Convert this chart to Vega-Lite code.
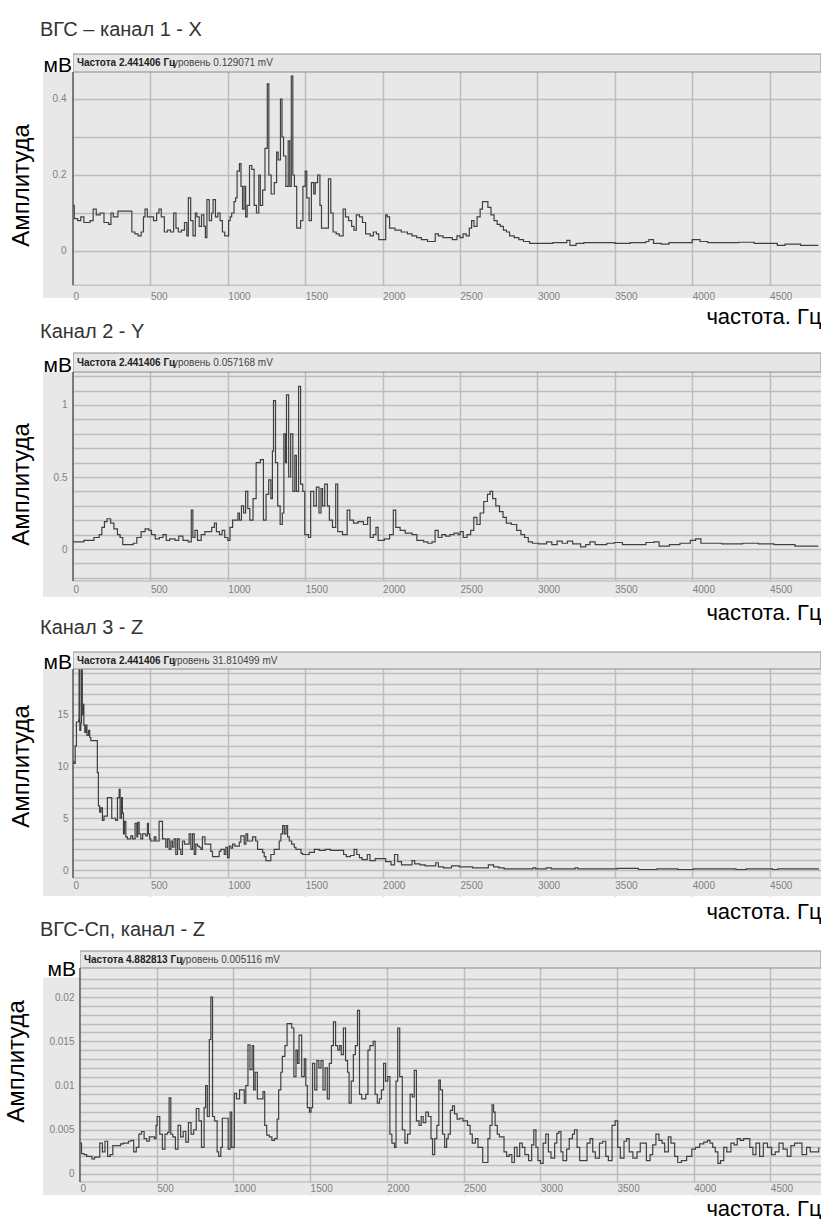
{
 "$schema": "https://vega.github.io/schema/vega-lite/v6.json",
 "background": "white",
 "padding": {"left": 4, "top": 19, "right": 0, "bottom": 0},
 "spacing": 55,
 "bounds": "flush",
 "config": {"view": {"fill": "#e8e8e8", "stroke": null}},
 "vconcat": [
  {
   "width": 778, "height": 244,
   "title": {"text": "ВГС – канал 1 - X", "anchor": "start", "frame": "group", "dx": -3, "dy": 19, "offset": 17, "baseline": "alphabetic", "fontSize": 20, "fontWeight": "normal", "font": "Liberation Sans", "color": "#333333"},
   "resolve": {"axis": {"x": "independent", "y": "independent"}},
   "layer": [
    {"data": {"values": [
{"f":0,"a":0.12},{"f":8,"a":0.085},{"f":30,"a":0.08},{"f":50,"a":0.09},{"f":70,"a":0.075},{"f":110,"a":0.08},{"f":130,"a":0.11},{"f":150,"a":0.095},{"f":175,"a":0.1},{"f":200,"a":0.075},{"f":230,"a":0.07},{"f":245,"a":0.1},{"f":260,"a":0.09},{"f":290,"a":0.105},{"f":380,"a":0.05},{"f":400,"a":0.045},{"f":420,"a":0.04},{"f":440,"a":0.05},{"f":455,"a":0.09},{"f":465,"a":0.11},{"f":480,"a":0.09},{"f":520,"a":0.08},{"f":540,"a":0.1},{"f":555,"a":0.11},{"f":570,"a":0.09},{"f":590,"a":0.05},{"f":610,"a":0.055},{"f":630,"a":0.05},{"f":650,"a":0.1},{"f":665,"a":0.06},{"f":680,"a":0.05},{"f":700,"a":0.055},{"f":720,"a":0.075},{"f":735,"a":0.04},{"f":745,"a":0.14},{"f":760,"a":0.08},{"f":775,"a":0.04},{"f":790,"a":0.1},{"f":800,"a":0.09},{"f":815,"a":0.065},{"f":830,"a":0.095},{"f":845,"a":0.065},{"f":855,"a":0.035},{"f":865,"a":0.135},{"f":880,"a":0.08},{"f":895,"a":0.1},{"f":905,"a":0.135},{"f":920,"a":0.09},{"f":935,"a":0.1},{"f":950,"a":0.08},{"f":965,"a":0.05},{"f":980,"a":0.04},{"f":1005,"a":0.08},{"f":1015,"a":0.09},{"f":1025,"a":0.1},{"f":1040,"a":0.13},{"f":1050,"a":0.14},{"f":1060,"a":0.21},{"f":1075,"a":0.23},{"f":1085,"a":0.17},{"f":1095,"a":0.11},{"f":1105,"a":0.17},{"f":1115,"a":0.09},{"f":1125,"a":0.12},{"f":1140,"a":0.225},{"f":1155,"a":0.215},{"f":1170,"a":0.12},{"f":1185,"a":0.1},{"f":1200,"a":0.2},{"f":1210,"a":0.12},{"f":1225,"a":0.16},{"f":1240,"a":0.27},{"f":1255,"a":0.44},{"f":1265,"a":0.2},{"f":1280,"a":0.15},{"f":1300,"a":0.18},{"f":1315,"a":0.26},{"f":1325,"a":0.24},{"f":1340,"a":0.4},{"f":1350,"a":0.3},{"f":1360,"a":0.25},{"f":1375,"a":0.17},{"f":1390,"a":0.29},{"f":1400,"a":0.17},{"f":1410,"a":0.46},{"f":1420,"a":0.2},{"f":1430,"a":0.17},{"f":1445,"a":0.06},{"f":1470,"a":0.08},{"f":1485,"a":0.17},{"f":1500,"a":0.21},{"f":1510,"a":0.14},{"f":1525,"a":0.08},{"f":1540,"a":0.18},{"f":1555,"a":0.15},{"f":1565,"a":0.18},{"f":1580,"a":0.2},{"f":1595,"a":0.12},{"f":1605,"a":0.06},{"f":1650,"a":0.19},{"f":1665,"a":0.1},{"f":1680,"a":0.05},{"f":1700,"a":0.045},{"f":1720,"a":0.04},{"f":1745,"a":0.11},{"f":1760,"a":0.09},{"f":1780,"a":0.08},{"f":1800,"a":0.065},{"f":1815,"a":0.055},{"f":1830,"a":0.095},{"f":1850,"a":0.09},{"f":1870,"a":0.075},{"f":1890,"a":0.045},{"f":1920,"a":0.04},{"f":1940,"a":0.05},{"f":1960,"a":0.045},{"f":1975,"a":0.03},{"f":2020,"a":0.095},{"f":2030,"a":0.09},{"f":2045,"a":0.06},{"f":2080,"a":0.055},{"f":2120,"a":0.05},{"f":2160,"a":0.045},{"f":2190,"a":0.04},{"f":2220,"a":0.035},{"f":2250,"a":0.03},{"f":2290,"a":0.025},{"f":2340,"a":0.045},{"f":2360,"a":0.04},{"f":2390,"a":0.035},{"f":2450,"a":0.03},{"f":2480,"a":0.04},{"f":2500,"a":0.035},{"f":2520,"a":0.045},{"f":2540,"a":0.04},{"f":2560,"a":0.06},{"f":2575,"a":0.08},{"f":2590,"a":0.065},{"f":2610,"a":0.09},{"f":2630,"a":0.11},{"f":2645,"a":0.13},{"f":2660,"a":0.13},{"f":2680,"a":0.115},{"f":2700,"a":0.095},{"f":2720,"a":0.08},{"f":2740,"a":0.07},{"f":2760,"a":0.065},{"f":2780,"a":0.055},{"f":2800,"a":0.05},{"f":2820,"a":0.04},{"f":2850,"a":0.035},{"f":2880,"a":0.03},{"f":2910,"a":0.025},{"f":2950,"a":0.02},{"f":3100,"a":0.022},{"f":3190,"a":0.028},{"f":3210,"a":0.015},{"f":3250,"a":0.02},{"f":3300,"a":0.022},{"f":3500,"a":0.02},{"f":3600,"a":0.022},{"f":3700,"a":0.025},{"f":3720,"a":0.03},{"f":3750,"a":0.02},{"f":3800,"a":0.018},{"f":3850,"a":0.022},{"f":4000,"a":0.03},{"f":4050,"a":0.025},{"f":4100,"a":0.022},{"f":4300,"a":0.023},{"f":4400,"a":0.02},{"f":4550,"a":0.015},{"f":4600,"a":0.018},{"f":4700,"a":0.015},{"f":4815,"a":0.015}
    ]},
     "mark": {"type": "line", "interpolate": "step-after", "color": "#404040", "strokeWidth": 1.2, "clip": true},
     "encoding": {
      "x": {"field": "f", "type": "quantitative", "scale": {"domain": [-194, 4832], "nice": false, "zero": false}, "axis": {"orient": "bottom", "values": [500,1000,1500,2000,2500,3000,3500,4000,4500], "grid": true, "gridColor": "#bdbdbd", "gridWidth": 1.5, "labels": false, "ticks": false, "domain": false, "title": null}},
      "y": {"field": "a", "type": "quantitative", "scale": {"domain": [-0.1237, 0.5184], "nice": false, "zero": false}, "axis": {"orient": "left", "values": [0,0.1,0.2,0.3,0.4], "grid": true, "gridColor": "#bdbdbd", "gridWidth": 1.5, "labels": false, "ticks": false, "domain": false, "title": null}}
     }},
    {"data": {"values": [{}]}, "mark": {"type": "rect", "fill": "#e8e8e8"},
     "encoding": {
      "x": {"datum": -194, "type": "quantitative", "axis": {"orient": "bottom", "offset": -13, "values": [0,500,1000,1500,2000,2500,3000,3500,4000,4500], "grid": false, "ticks": false, "domain": false, "labelAlign": "left", "labelBaseline": "top", "labelPadding": 6, "labelFontSize": 10, "labelColor": "#808080", "labelFont": "Liberation Sans Narrow, Liberation Sans, sans-serif", "format": "d", "labelOverlap": false, "labelFlush": false, "title": "частота. Гц", "titleAnchor": "end", "titleFontSize": 22, "titleFont": "Liberation Sans", "titleFontWeight": "normal", "titleColor": "#000000", "titleBaseline": "alphabetic", "titlePadding": 26, "minExtent": 12, "maxExtent": 12, "zindex": 1}},
      "x2": {"datum": 0},
      "y": {"datum": -0.1237, "type": "quantitative", "axis": {"orient": "left", "offset": -30, "values": [0,0.2,0.4], "grid": false, "ticks": false, "domain": false, "labelPadding": 7, "labelFontSize": 10, "labelColor": "#808080", "labelFont": "Liberation Sans Narrow, Liberation Sans, sans-serif", "format": "~g", "labelOverlap": false, "labelFlush": false, "labelBaseline": "middle", "title": "Амплитуда", "titleFontSize": 24, "titleFont": "Liberation Sans", "titleFontWeight": "normal", "titleColor": "#000000", "titlePadding": 18, "titleY": 131, "minExtent": 22, "maxExtent": 22, "zindex": 1}},
      "y2": {"datum": 0.471}
     }},
    {"data": {"values": [{}]}, "mark": {"type": "rect", "fill": "#e8e8e8"},
     "encoding": {"x": {"datum": 0, "type": "quantitative", "axis": null}, "x2": {"datum": 4832}, "y": {"datum": -0.1237, "type": "quantitative", "axis": null}, "y2": {"datum": -0.09}}},
    {"data": {"values": [{}]}, "mark": {"type": "rect", "fill": "#e6e6e6", "stroke": "#8c8c8c", "strokeWidth": 1},
     "encoding": {"x": {"datum": 0, "type": "quantitative", "axis": null}, "x2": {"datum": 4832}, "y": {"datum": 0.471, "type": "quantitative", "axis": null}, "y2": {"datum": 0.5184}}},
    {"data": {"values": [{}]}, "mark": {"type": "rect", "fill": "#ffffff"},
     "encoding": {"x": {"datum": -194, "type": "quantitative", "axis": null}, "x2": {"datum": 0}, "y": {"datum": 0.471, "type": "quantitative", "axis": null}, "y2": {"datum": 0.5184}}},
    {"data": {"values": [{}]}, "mark": {"type": "rule", "color": "#b0b0b0", "strokeWidth": 1},
     "encoding": {"x": {"datum": 0, "type": "quantitative", "axis": null}, "x2": {"datum": 4832}, "y": {"datum": -0.09, "type": "quantitative", "axis": null}}},
    {"data": {"values": [{}]}, "mark": {"type": "rule", "color": "#555555", "strokeWidth": 1.5},
     "encoding": {"x": {"datum": 0, "type": "quantitative", "axis": null}, "y": {"datum": -0.09, "type": "quantitative", "axis": null}, "y2": {"datum": 0.471}}},
    {"data": {"values": [{}]}, "mark": {"type": "text", "text": "мВ", "align": "right", "baseline": "alphabetic", "fontSize": 21, "font": "Liberation Sans", "color": "#000000", "dx": -1},
     "encoding": {"x": {"datum": 0, "type": "quantitative", "axis": null}, "y": {"datum": 0.471, "type": "quantitative", "axis": null}}},
    {"data": {"values": [{}]}, "mark": {"type": "text", "text": "Частота 2.441406 Гц", "align": "left", "baseline": "middle", "fontSize": 10, "fontWeight": "bold", "font": "Liberation Sans Narrow, Liberation Sans, sans-serif", "color": "#222222"},
     "encoding": {"x": {"datum": 25, "type": "quantitative", "axis": null}, "y": {"datum": 0.4947, "type": "quantitative", "axis": null}}},
    {"data": {"values": [{}]}, "mark": {"type": "text", "text": "уровень 0.129071 mV", "align": "left", "baseline": "middle", "fontSize": 10, "font": "Liberation Sans Narrow, Liberation Sans, sans-serif", "color": "#444444"},
     "encoding": {"x": {"datum": 646, "type": "quantitative", "axis": null}, "y": {"datum": 0.4947, "type": "quantitative", "axis": null}}}
   ]
  },
  {
   "width": 778, "height": 244,
   "title": {"text": "Канал 2 - Y", "anchor": "start", "frame": "group", "dx": -3, "dy": 20, "offset": 15, "baseline": "alphabetic", "fontSize": 20, "fontWeight": "normal", "font": "Liberation Sans", "color": "#333333"},
   "resolve": {"axis": {"x": "independent", "y": "independent"}},
   "layer": [
    {"data": {"values": [
{"f":0,"a":0.05},{"f":70,"a":0.06},{"f":135,"a":0.08},{"f":169,"a":0.1},{"f":186,"a":0.15},{"f":203,"a":0.19},{"f":220,"a":0.21},{"f":243,"a":0.18},{"f":264,"a":0.14},{"f":287,"a":0.1},{"f":304,"a":0.08},{"f":321,"a":0.03},{"f":389,"a":0.04},{"f":412,"a":0.08},{"f":440,"a":0.12},{"f":466,"a":0.14},{"f":490,"a":0.13},{"f":507,"a":0.1},{"f":531,"a":0.07},{"f":558,"a":0.08},{"f":581,"a":0.1},{"f":602,"a":0.06},{"f":625,"a":0.07},{"f":659,"a":0.06},{"f":683,"a":0.09},{"f":710,"a":0.06},{"f":744,"a":0.05},{"f":764,"a":0.27},{"f":774,"a":0.08},{"f":788,"a":0.13},{"f":804,"a":0.06},{"f":828,"a":0.1},{"f":852,"a":0.12},{"f":896,"a":0.15},{"f":913,"a":0.18},{"f":926,"a":0.12},{"f":946,"a":0.1},{"f":963,"a":0.13},{"f":980,"a":0.08},{"f":1000,"a":0.06},{"f":1014,"a":0.15},{"f":1031,"a":0.2},{"f":1065,"a":0.25},{"f":1075,"a":0.2},{"f":1088,"a":0.3},{"f":1102,"a":0.25},{"f":1115,"a":0.4},{"f":1129,"a":0.28},{"f":1142,"a":0.2},{"f":1163,"a":0.35},{"f":1183,"a":0.6},{"f":1210,"a":0.62},{"f":1230,"a":0.2},{"f":1247,"a":0.38},{"f":1264,"a":0.48},{"f":1278,"a":0.35},{"f":1288,"a":0.68},{"f":1295,"a":1.03},{"f":1308,"a":0.6},{"f":1322,"a":0.3},{"f":1338,"a":0.17},{"f":1352,"a":0.25},{"f":1362,"a":0.8},{"f":1372,"a":0.6},{"f":1379,"a":1.07},{"f":1393,"a":0.5},{"f":1406,"a":0.8},{"f":1420,"a":0.4},{"f":1433,"a":0.65},{"f":1443,"a":0.4},{"f":1457,"a":1.13},{"f":1470,"a":0.45},{"f":1484,"a":0.4},{"f":1497,"a":0.1},{"f":1521,"a":0.08},{"f":1535,"a":0.4},{"f":1555,"a":0.3},{"f":1572,"a":0.43},{"f":1589,"a":0.25},{"f":1602,"a":0.42},{"f":1612,"a":0.3},{"f":1626,"a":0.45},{"f":1643,"a":0.3},{"f":1656,"a":0.2},{"f":1676,"a":0.15},{"f":1697,"a":0.45},{"f":1710,"a":0.12},{"f":1741,"a":0.1},{"f":1771,"a":0.27},{"f":1788,"a":0.2},{"f":1812,"a":0.18},{"f":1842,"a":0.19},{"f":1876,"a":0.17},{"f":1903,"a":0.22},{"f":1920,"a":0.08},{"f":1940,"a":0.1},{"f":1957,"a":0.15},{"f":1971,"a":0.06},{"f":2011,"a":0.07},{"f":2045,"a":0.1},{"f":2069,"a":0.27},{"f":2085,"a":0.15},{"f":2113,"a":0.13},{"f":2146,"a":0.11},{"f":2190,"a":0.1},{"f":2221,"a":0.06},{"f":2265,"a":0.05},{"f":2292,"a":0.04},{"f":2319,"a":0.05},{"f":2339,"a":0.13},{"f":2359,"a":0.08},{"f":2383,"a":0.1},{"f":2407,"a":0.09},{"f":2434,"a":0.1},{"f":2461,"a":0.11},{"f":2488,"a":0.1},{"f":2501,"a":0.12},{"f":2521,"a":0.08},{"f":2545,"a":0.1},{"f":2569,"a":0.13},{"f":2589,"a":0.22},{"f":2609,"a":0.17},{"f":2630,"a":0.25},{"f":2653,"a":0.33},{"f":2677,"a":0.38},{"f":2694,"a":0.4},{"f":2711,"a":0.35},{"f":2731,"a":0.3},{"f":2755,"a":0.26},{"f":2778,"a":0.22},{"f":2799,"a":0.18},{"f":2832,"a":0.17},{"f":2866,"a":0.13},{"f":2893,"a":0.1},{"f":2917,"a":0.08},{"f":2941,"a":0.05},{"f":2968,"a":0.04},{"f":3008,"a":0.035},{"f":3059,"a":0.05},{"f":3093,"a":0.03},{"f":3127,"a":0.055},{"f":3160,"a":0.04},{"f":3194,"a":0.055},{"f":3228,"a":0.035},{"f":3279,"a":0.015},{"f":3312,"a":0.03},{"f":3339,"a":0.05},{"f":3373,"a":0.03},{"f":3448,"a":0.04},{"f":3498,"a":0.045},{"f":3549,"a":0.03},{"f":3701,"a":0.045},{"f":3752,"a":0.05},{"f":3786,"a":0.02},{"f":3853,"a":0.03},{"f":3921,"a":0.04},{"f":3988,"a":0.06},{"f":4022,"a":0.07},{"f":4056,"a":0.04},{"f":4191,"a":0.035},{"f":4326,"a":0.04},{"f":4428,"a":0.035},{"f":4529,"a":0.03},{"f":4664,"a":0.02},{"f":4815,"a":0.02}
    ]},
     "mark": {"type": "line", "interpolate": "step-after", "color": "#404040", "strokeWidth": 1.2, "clip": true},
     "encoding": {
      "x": {"field": "f", "type": "quantitative", "scale": {"domain": [-194, 4832], "nice": false, "zero": false}, "axis": {"orient": "bottom", "values": [500,1000,1500,2000,2500,3000,3500,4000,4500], "grid": true, "gridColor": "#bdbdbd", "gridWidth": 1.5, "labels": false, "ticks": false, "domain": false, "title": null}},
      "y": {"field": "a", "type": "quantitative", "scale": {"domain": [-0.3333, 1.3611], "nice": false, "zero": false}, "axis": {"orient": "left", "values": [-0.2,-0.1,0,0.1,0.2,0.3,0.4,0.5,0.6,0.7,0.8,0.9,1,1.1,1.2], "grid": true, "gridColor": "#bdbdbd", "gridWidth": 1.5, "labels": false, "ticks": false, "domain": false, "title": null}}
     }},
    {"data": {"values": [{}]}, "mark": {"type": "rect", "fill": "#e8e8e8"},
     "encoding": {
      "x": {"datum": -194, "type": "quantitative", "axis": {"orient": "bottom", "offset": -16, "values": [0,500,1000,1500,2000,2500,3000,3500,4000,4500], "grid": false, "ticks": false, "domain": false, "labelAlign": "left", "labelBaseline": "top", "labelPadding": 3, "labelFontSize": 10, "labelColor": "#808080", "labelFont": "Liberation Sans Narrow, Liberation Sans, sans-serif", "format": "d", "labelOverlap": false, "labelFlush": false, "title": "частота. Гц", "titleAnchor": "end", "titleFontSize": 22, "titleFont": "Liberation Sans", "titleFontWeight": "normal", "titleColor": "#000000", "titleBaseline": "alphabetic", "titlePadding": 26, "minExtent": 12, "maxExtent": 12, "zindex": 1}},
      "x2": {"datum": 0},
      "y": {"datum": -0.3333, "type": "quantitative", "axis": {"orient": "left", "offset": -30, "values": [0,0.5,1], "grid": false, "ticks": false, "domain": false, "labelPadding": 6, "labelFontSize": 10, "labelColor": "#808080", "labelFont": "Liberation Sans Narrow, Liberation Sans, sans-serif", "format": "~g", "labelOverlap": false, "labelFlush": false, "labelBaseline": "middle", "title": "Амплитуда", "titleFontSize": 24, "titleFont": "Liberation Sans", "titleFontWeight": "normal", "titleColor": "#000000", "titlePadding": 18, "titleY": 131, "minExtent": 22, "maxExtent": 22, "zindex": 1}},
      "y2": {"datum": 1.229}
     }},
    {"data": {"values": [{}]}, "mark": {"type": "rect", "fill": "#e8e8e8"},
     "encoding": {"x": {"datum": 0, "type": "quantitative", "axis": null}, "x2": {"datum": 4832}, "y": {"datum": -0.3333, "type": "quantitative", "axis": null}, "y2": {"datum": -0.222}}},
    {"data": {"values": [{}]}, "mark": {"type": "rect", "fill": "#e6e6e6", "stroke": "#8c8c8c", "strokeWidth": 1},
     "encoding": {"x": {"datum": 0, "type": "quantitative", "axis": null}, "x2": {"datum": 4832}, "y": {"datum": 1.229, "type": "quantitative", "axis": null}, "y2": {"datum": 1.3611}}},
    {"data": {"values": [{}]}, "mark": {"type": "rect", "fill": "#ffffff"},
     "encoding": {"x": {"datum": -194, "type": "quantitative", "axis": null}, "x2": {"datum": 0}, "y": {"datum": 1.229, "type": "quantitative", "axis": null}, "y2": {"datum": 1.3611}}},
    {"data": {"values": [{}]}, "mark": {"type": "rule", "color": "#b0b0b0", "strokeWidth": 1},
     "encoding": {"x": {"datum": 0, "type": "quantitative", "axis": null}, "x2": {"datum": 4832}, "y": {"datum": -0.222, "type": "quantitative", "axis": null}}},
    {"data": {"values": [{}]}, "mark": {"type": "rule", "color": "#555555", "strokeWidth": 1.5},
     "encoding": {"x": {"datum": 0, "type": "quantitative", "axis": null}, "y": {"datum": -0.222, "type": "quantitative", "axis": null}, "y2": {"datum": 1.229}}},
    {"data": {"values": [{}]}, "mark": {"type": "text", "text": "мВ", "align": "right", "baseline": "alphabetic", "fontSize": 21, "font": "Liberation Sans", "color": "#000000", "dx": -1},
     "encoding": {"x": {"datum": 0, "type": "quantitative", "axis": null}, "y": {"datum": 1.229, "type": "quantitative", "axis": null}}},
    {"data": {"values": [{}]}, "mark": {"type": "text", "text": "Частота 2.441406 Гц", "align": "left", "baseline": "middle", "fontSize": 10, "fontWeight": "bold", "font": "Liberation Sans Narrow, Liberation Sans, sans-serif", "color": "#222222"},
     "encoding": {"x": {"datum": 25, "type": "quantitative", "axis": null}, "y": {"datum": 1.295, "type": "quantitative", "axis": null}}},
    {"data": {"values": [{}]}, "mark": {"type": "text", "text": "уровень 0.057168 mV", "align": "left", "baseline": "middle", "fontSize": 10, "font": "Liberation Sans Narrow, Liberation Sans, sans-serif", "color": "#444444"},
     "encoding": {"x": {"datum": 646, "type": "quantitative", "axis": null}, "y": {"datum": 1.295, "type": "quantitative", "axis": null}}}
   ]
  },
  {
   "width": 778, "height": 244,
   "title": {"text": "Канал 3 - Z", "anchor": "start", "frame": "group", "dx": -3, "dy": 19, "offset": 17, "baseline": "alphabetic", "fontSize": 20, "fontWeight": "normal", "font": "Liberation Sans", "color": "#333333"},
   "resolve": {"axis": {"x": "independent", "y": "independent"}},
   "layer": [
    {"data": {"values": [
{"f":0,"a":10.5},{"f":5,"a":10.3},{"f":14,"a":12},{"f":22,"a":14.3},{"f":36,"a":14.5},{"f":39,"a":21},{"f":44,"a":13.5},{"f":50,"a":14.2},{"f":55,"a":21},{"f":60,"a":15},{"f":65,"a":16},{"f":70,"a":14},{"f":76,"a":13.3},{"f":82,"a":14},{"f":90,"a":13},{"f":100,"a":13.5},{"f":108,"a":12.8},{"f":115,"a":12.5},{"f":157,"a":9.4},{"f":164,"a":6.2},{"f":172,"a":5.6},{"f":180,"a":6},{"f":190,"a":4.8},{"f":200,"a":5.2},{"f":222,"a":7},{"f":250,"a":5},{"f":275,"a":4.8},{"f":287,"a":7},{"f":298,"a":7.8},{"f":304,"a":5},{"f":313,"a":7},{"f":319,"a":5.5},{"f":326,"a":3.5},{"f":332,"a":4.7},{"f":341,"a":3.2},{"f":351,"a":3},{"f":373,"a":3.3},{"f":385,"a":3},{"f":401,"a":4.5},{"f":412,"a":3.2},{"f":418,"a":4.6},{"f":427,"a":3.5},{"f":438,"a":3},{"f":450,"a":3.5},{"f":470,"a":3.3},{"f":481,"a":4.5},{"f":487,"a":3.5},{"f":495,"a":3},{"f":502,"a":2.8},{"f":525,"a":3.2},{"f":535,"a":2.8},{"f":556,"a":4.7},{"f":578,"a":3},{"f":599,"a":2.2},{"f":610,"a":3},{"f":621,"a":2},{"f":632,"a":2.8},{"f":642,"a":2.2},{"f":653,"a":3},{"f":664,"a":1.5},{"f":675,"a":3},{"f":686,"a":2},{"f":696,"a":1.5},{"f":707,"a":2.8},{"f":720,"a":2.5},{"f":750,"a":3.5},{"f":761,"a":2},{"f":772,"a":3.5},{"f":783,"a":1.5},{"f":793,"a":2.5},{"f":804,"a":2.3},{"f":815,"a":2.2},{"f":826,"a":2},{"f":836,"a":3.2},{"f":852,"a":2.5},{"f":890,"a":1.8},{"f":901,"a":1.3},{"f":944,"a":1.8},{"f":955,"a":2},{"f":977,"a":1.5},{"f":987,"a":2.2},{"f":998,"a":1.2},{"f":1009,"a":2.3},{"f":1020,"a":2.1},{"f":1031,"a":2.5},{"f":1045,"a":2.3},{"f":1074,"a":2.7},{"f":1084,"a":3.3},{"f":1106,"a":2.5},{"f":1117,"a":3.5},{"f":1128,"a":2.8},{"f":1160,"a":3.2},{"f":1180,"a":2.8},{"f":1192,"a":2},{"f":1225,"a":1.7},{"f":1235,"a":1.3},{"f":1246,"a":0.9},{"f":1278,"a":1.5},{"f":1300,"a":2},{"f":1332,"a":2.8},{"f":1343,"a":3.5},{"f":1354,"a":4.3},{"f":1365,"a":3.5},{"f":1376,"a":4.3},{"f":1386,"a":3.2},{"f":1397,"a":2.8},{"f":1412,"a":2.5},{"f":1429,"a":2.2},{"f":1440,"a":2},{"f":1473,"a":1.6},{"f":1483,"a":1.5},{"f":1526,"a":1.7},{"f":1559,"a":2},{"f":1591,"a":1.9},{"f":1629,"a":2},{"f":1663,"a":1.9},{"f":1748,"a":1.5},{"f":1765,"a":1.3},{"f":1792,"a":1.4},{"f":1816,"a":2},{"f":1833,"a":1.5},{"f":1850,"a":1.2},{"f":1867,"a":1},{"f":1901,"a":1.5},{"f":1918,"a":0.9},{"f":1952,"a":1.1},{"f":2020,"a":0.8},{"f":2054,"a":0.5},{"f":2077,"a":1.5},{"f":2098,"a":0.8},{"f":2122,"a":0.5},{"f":2190,"a":0.9},{"f":2207,"a":0.6},{"f":2241,"a":0.5},{"f":2275,"a":0.4},{"f":2343,"a":0.7},{"f":2360,"a":0.3},{"f":2394,"a":0.2},{"f":2445,"a":0.4},{"f":2496,"a":0.3},{"f":2581,"a":0.2},{"f":2683,"a":0.5},{"f":2717,"a":0.3},{"f":2751,"a":0.2},{"f":2785,"a":0.1},{"f":2972,"a":0.2},{"f":2989,"a":0.1},{"f":3057,"a":0.2},{"f":3091,"a":0.1},{"f":3244,"a":0.2},{"f":3261,"a":0.1},{"f":3516,"a":0.15},{"f":3652,"a":0.05},{"f":3771,"a":0.1},{"f":3907,"a":0.05},{"f":4009,"a":0.1},{"f":4283,"a":0.05},{"f":4349,"a":0.1},{"f":4519,"a":0.05},{"f":4553,"a":0.1},{"f":4815,"a":0.05}
    ]},
     "mark": {"type": "line", "interpolate": "step-after", "color": "#404040", "strokeWidth": 1.2, "clip": true},
     "encoding": {
      "x": {"field": "f", "type": "quantitative", "scale": {"domain": [-194, 4832], "nice": false, "zero": false}, "axis": {"orient": "bottom", "values": [500,1000,1500,2000,2500,3000,3500,4000,4500], "grid": true, "gridColor": "#bdbdbd", "gridWidth": 1.5, "labels": false, "ticks": false, "domain": false, "title": null}},
      "y": {"field": "a", "type": "quantitative", "scale": {"domain": [-2.512, 21.063], "nice": false, "zero": false}, "axis": {"orient": "left", "values": [0,1,2,3,4,5,6,7,8,9,10,11,12,13,14,15,16,17,18,19], "grid": true, "gridColor": "#bdbdbd", "gridWidth": 1.5, "labels": false, "ticks": false, "domain": false, "title": null}}
     }},
    {"data": {"values": [{}]}, "mark": {"type": "rect", "fill": "#e8e8e8"},
     "encoding": {
      "x": {"datum": -194, "type": "quantitative", "axis": {"orient": "bottom", "offset": -18, "values": [0,500,1000,1500,2000,2500,3000,3500,4000,4500], "grid": false, "ticks": false, "domain": false, "labelAlign": "left", "labelBaseline": "top", "labelPadding": 2, "labelFontSize": 10, "labelColor": "#808080", "labelFont": "Liberation Sans Narrow, Liberation Sans, sans-serif", "format": "d", "labelOverlap": false, "labelFlush": false, "title": "частота. Гц", "titleAnchor": "end", "titleFontSize": 22, "titleFont": "Liberation Sans", "titleFontWeight": "normal", "titleColor": "#000000", "titleBaseline": "alphabetic", "titlePadding": 28, "minExtent": 12, "maxExtent": 12, "zindex": 1}},
      "x2": {"datum": 0},
      "y": {"datum": -2.512, "type": "quantitative", "axis": {"orient": "left", "offset": -30, "values": [0,5,10,15], "grid": false, "ticks": false, "domain": false, "labelPadding": 5, "labelFontSize": 10, "labelColor": "#808080", "labelFont": "Liberation Sans Narrow, Liberation Sans, sans-serif", "format": "~g", "labelOverlap": false, "labelFlush": false, "labelBaseline": "middle", "title": "Амплитуда", "titleFontSize": 24, "titleFont": "Liberation Sans", "titleFontWeight": "normal", "titleColor": "#000000", "titlePadding": 18, "titleY": 114, "minExtent": 22, "maxExtent": 22, "zindex": 1}},
      "y2": {"datum": 19.42}
     }},
    {"data": {"values": [{}]}, "mark": {"type": "rect", "fill": "#e8e8e8"},
     "encoding": {"x": {"datum": 0, "type": "quantitative", "axis": null}, "x2": {"datum": 4832}, "y": {"datum": -2.512, "type": "quantitative", "axis": null}, "y2": {"datum": -0.77}}},
    {"data": {"values": [{}]}, "mark": {"type": "rect", "fill": "#e6e6e6", "stroke": "#8c8c8c", "strokeWidth": 1},
     "encoding": {"x": {"datum": 0, "type": "quantitative", "axis": null}, "x2": {"datum": 4832}, "y": {"datum": 19.42, "type": "quantitative", "axis": null}, "y2": {"datum": 21.063}}},
    {"data": {"values": [{}]}, "mark": {"type": "rect", "fill": "#ffffff"},
     "encoding": {"x": {"datum": -194, "type": "quantitative", "axis": null}, "x2": {"datum": 0}, "y": {"datum": 19.42, "type": "quantitative", "axis": null}, "y2": {"datum": 21.063}}},
    {"data": {"values": [{}]}, "mark": {"type": "rule", "color": "#b0b0b0", "strokeWidth": 1},
     "encoding": {"x": {"datum": 0, "type": "quantitative", "axis": null}, "x2": {"datum": 4832}, "y": {"datum": -0.77, "type": "quantitative", "axis": null}}},
    {"data": {"values": [{}]}, "mark": {"type": "rule", "color": "#555555", "strokeWidth": 1.5},
     "encoding": {"x": {"datum": 0, "type": "quantitative", "axis": null}, "y": {"datum": -0.77, "type": "quantitative", "axis": null}, "y2": {"datum": 19.42}}},
    {"data": {"values": [{}]}, "mark": {"type": "text", "text": "мВ", "align": "right", "baseline": "alphabetic", "fontSize": 21, "font": "Liberation Sans", "color": "#000000", "dx": -1},
     "encoding": {"x": {"datum": 0, "type": "quantitative", "axis": null}, "y": {"datum": 19.42, "type": "quantitative", "axis": null}}},
    {"data": {"values": [{}]}, "mark": {"type": "text", "text": "Частота 2.441406 Гц", "align": "left", "baseline": "middle", "fontSize": 10, "fontWeight": "bold", "font": "Liberation Sans Narrow, Liberation Sans, sans-serif", "color": "#222222"},
     "encoding": {"x": {"datum": 25, "type": "quantitative", "axis": null}, "y": {"datum": 20.24, "type": "quantitative", "axis": null}}},
    {"data": {"values": [{}]}, "mark": {"type": "text", "text": "уровень 31.810499 mV", "align": "left", "baseline": "middle", "fontSize": 10, "font": "Liberation Sans Narrow, Liberation Sans, sans-serif", "color": "#444444"},
     "encoding": {"x": {"datum": 640, "type": "quantitative", "axis": null}, "y": {"datum": 20.24, "type": "quantitative", "axis": null}}}
   ]
  },
  {
   "width": 778, "height": 244,
   "title": {"text": "ВГС-Сп, канал - Z", "anchor": "start", "frame": "group", "dx": -3, "dy": 19, "offset": 14, "baseline": "alphabetic", "fontSize": 20, "fontWeight": "normal", "font": "Liberation Sans", "color": "#333333"},
   "resolve": {"axis": {"x": "independent", "y": "independent"}},
   "layer": [
    {"data": {"values": [
{"f":0,"a":0.0035},{"f":10,"a":0.0023},{"f":27,"a":0.0022},{"f":44,"a":0.002},{"f":78,"a":0.0017},{"f":95,"a":0.0019},{"f":129,"a":0.0035},{"f":146,"a":0.0025},{"f":163,"a":0.0037},{"f":180,"a":0.002},{"f":197,"a":0.0022},{"f":214,"a":0.0032},{"f":265,"a":0.0034},{"f":282,"a":0.0035},{"f":316,"a":0.0037},{"f":333,"a":0.0038},{"f":350,"a":0.0025},{"f":367,"a":0.003},{"f":384,"a":0.0045},{"f":401,"a":0.0048},{"f":418,"a":0.004},{"f":435,"a":0.0037},{"f":452,"a":0.0042},{"f":486,"a":0.004},{"f":496,"a":0.0055},{"f":503,"a":0.0065},{"f":520,"a":0.0045},{"f":537,"a":0.0028},{"f":554,"a":0.0045},{"f":571,"a":0.0047},{"f":581,"a":0.0086},{"f":592,"a":0.0045},{"f":605,"a":0.0042},{"f":622,"a":0.0028},{"f":639,"a":0.0055},{"f":656,"a":0.0042},{"f":673,"a":0.0048},{"f":690,"a":0.0036},{"f":707,"a":0.0058},{"f":724,"a":0.0045},{"f":741,"a":0.005},{"f":758,"a":0.0074},{"f":775,"a":0.006},{"f":792,"a":0.003},{"f":809,"a":0.0075},{"f":819,"a":0.01},{"f":830,"a":0.0065},{"f":843,"a":0.0152},{"f":853,"a":0.02},{"f":864,"a":0.0065},{"f":877,"a":0.006},{"f":894,"a":0.0025},{"f":904,"a":0.002},{"f":918,"a":0.003},{"f":928,"a":0.0063},{"f":966,"a":0.0028},{"f":979,"a":0.007},{"f":989,"a":0.003},{"f":1006,"a":0.0091},{"f":1020,"a":0.0085},{"f":1040,"a":0.0095},{"f":1071,"a":0.008},{"f":1081,"a":0.01},{"f":1095,"a":0.0146},{"f":1108,"a":0.0118},{"f":1122,"a":0.0145},{"f":1132,"a":0.0095},{"f":1142,"a":0.0115},{"f":1156,"a":0.0085},{"f":1193,"a":0.0093},{"f":1204,"a":0.0055},{"f":1217,"a":0.0044},{"f":1234,"a":0.0042},{"f":1251,"a":0.0038},{"f":1268,"a":0.004},{"f":1285,"a":0.0062},{"f":1295,"a":0.0095},{"f":1309,"a":0.0115},{"f":1319,"a":0.0133},{"f":1336,"a":0.0145},{"f":1350,"a":0.017},{"f":1380,"a":0.0165},{"f":1394,"a":0.011},{"f":1408,"a":0.014},{"f":1418,"a":0.0125},{"f":1428,"a":0.0157},{"f":1445,"a":0.011},{"f":1462,"a":0.013},{"f":1472,"a":0.01},{"f":1482,"a":0.0075},{"f":1496,"a":0.007},{"f":1506,"a":0.0075},{"f":1516,"a":0.0125},{"f":1530,"a":0.0095},{"f":1544,"a":0.0128},{"f":1557,"a":0.012},{"f":1571,"a":0.0128},{"f":1584,"a":0.0095},{"f":1598,"a":0.012},{"f":1612,"a":0.0085},{"f":1625,"a":0.0125},{"f":1639,"a":0.0145},{"f":1652,"a":0.0172},{"f":1666,"a":0.0145},{"f":1680,"a":0.014},{"f":1693,"a":0.0145},{"f":1703,"a":0.0135},{"f":1717,"a":0.0165},{"f":1731,"a":0.0128},{"f":1744,"a":0.0115},{"f":1754,"a":0.008},{"f":1768,"a":0.0105},{"f":1782,"a":0.0135},{"f":1795,"a":0.0145},{"f":1809,"a":0.0185},{"f":1822,"a":0.009},{"f":1836,"a":0.0085},{"f":1863,"a":0.009},{"f":1877,"a":0.014},{"f":1890,"a":0.0145},{"f":1911,"a":0.015},{"f":1924,"a":0.009},{"f":1938,"a":0.008},{"f":1952,"a":0.0085},{"f":1965,"a":0.0095},{"f":1979,"a":0.0125},{"f":1992,"a":0.0105},{"f":2006,"a":0.011},{"f":2020,"a":0.0045},{"f":2033,"a":0.0035},{"f":2050,"a":0.003},{"f":2060,"a":0.0105},{"f":2071,"a":0.0165},{"f":2084,"a":0.011},{"f":2101,"a":0.005},{"f":2118,"a":0.0035},{"f":2135,"a":0.0045},{"f":2152,"a":0.009},{"f":2166,"a":0.0087},{"f":2179,"a":0.0117},{"f":2193,"a":0.006},{"f":2210,"a":0.0055},{"f":2224,"a":0.0065},{"f":2237,"a":0.0058},{"f":2254,"a":0.007},{"f":2271,"a":0.0065},{"f":2288,"a":0.004},{"f":2298,"a":0.0022},{"f":2312,"a":0.004},{"f":2326,"a":0.0055},{"f":2339,"a":0.0106},{"f":2349,"a":0.0095},{"f":2363,"a":0.0045},{"f":2377,"a":0.003},{"f":2390,"a":0.004},{"f":2400,"a":0.0045},{"f":2414,"a":0.0072},{"f":2428,"a":0.0077},{"f":2441,"a":0.0068},{"f":2458,"a":0.0062},{"f":2475,"a":0.0063},{"f":2496,"a":0.006},{"f":2526,"a":0.0055},{"f":2543,"a":0.0045},{"f":2557,"a":0.0035},{"f":2577,"a":0.004},{"f":2594,"a":0.003},{"f":2625,"a":0.0013},{"f":2659,"a":0.004},{"f":2672,"a":0.0055},{"f":2686,"a":0.0078},{"f":2696,"a":0.007},{"f":2706,"a":0.0055},{"f":2720,"a":0.0045},{"f":2734,"a":0.0042},{"f":2764,"a":0.0025},{"f":2781,"a":0.002},{"f":2798,"a":0.0022},{"f":2815,"a":0.0013},{"f":2832,"a":0.003},{"f":2849,"a":0.002},{"f":2866,"a":0.0035},{"f":2883,"a":0.003},{"f":2900,"a":0.0022},{"f":2924,"a":0.0015},{"f":2944,"a":0.0033},{"f":2958,"a":0.005},{"f":2972,"a":0.003},{"f":2985,"a":0.0015},{"f":3002,"a":0.0012},{"f":3019,"a":0.0035},{"f":3036,"a":0.0045},{"f":3053,"a":0.0025},{"f":3070,"a":0.0018},{"f":3094,"a":0.0035},{"f":3108,"a":0.0046},{"f":3121,"a":0.0048},{"f":3135,"a":0.0025},{"f":3148,"a":0.0015},{"f":3172,"a":0.0028},{"f":3189,"a":0.004},{"f":3210,"a":0.0045},{"f":3223,"a":0.005},{"f":3240,"a":0.003},{"f":3257,"a":0.0015},{"f":3305,"a":0.0035},{"f":3325,"a":0.004},{"f":3342,"a":0.0025},{"f":3359,"a":0.0018},{"f":3386,"a":0.0035},{"f":3407,"a":0.0037},{"f":3427,"a":0.002},{"f":3444,"a":0.0015},{"f":3468,"a":0.0055},{"f":3488,"a":0.006},{"f":3505,"a":0.003},{"f":3522,"a":0.0018},{"f":3546,"a":0.0037},{"f":3563,"a":0.004},{"f":3580,"a":0.0025},{"f":3604,"a":0.0018},{"f":3631,"a":0.0025},{"f":3652,"a":0.0035},{"f":3692,"a":0.0015},{"f":3716,"a":0.0022},{"f":3733,"a":0.0033},{"f":3754,"a":0.0045},{"f":3774,"a":0.0038},{"f":3794,"a":0.0035},{"f":3811,"a":0.0025},{"f":3835,"a":0.0042},{"f":3852,"a":0.0035},{"f":3876,"a":0.002},{"f":3896,"a":0.0013},{"f":3920,"a":0.0015},{"f":3954,"a":0.002},{"f":3988,"a":0.0028},{"f":4012,"a":0.003},{"f":4039,"a":0.0034},{"f":4066,"a":0.0036},{"f":4090,"a":0.0038},{"f":4107,"a":0.0035},{"f":4124,"a":0.003},{"f":4141,"a":0.0025},{"f":4158,"a":0.0012},{"f":4175,"a":0.0015},{"f":4196,"a":0.003},{"f":4216,"a":0.0025},{"f":4243,"a":0.0035},{"f":4264,"a":0.0033},{"f":4284,"a":0.004},{"f":4304,"a":0.0038},{"f":4325,"a":0.004},{"f":4366,"a":0.003},{"f":4386,"a":0.0022},{"f":4406,"a":0.0035},{"f":4430,"a":0.002},{"f":4454,"a":0.0035},{"f":4481,"a":0.003},{"f":4508,"a":0.0022},{"f":4532,"a":0.0025},{"f":4556,"a":0.0035},{"f":4583,"a":0.0028},{"f":4610,"a":0.002},{"f":4634,"a":0.0032},{"f":4658,"a":0.0035},{"f":4706,"a":0.0022},{"f":4736,"a":0.003},{"f":4760,"a":0.0025},{"f":4815,"a":0.003}
    ]},
     "mark": {"type": "line", "interpolate": "step-after", "color": "#404040", "strokeWidth": 1.2, "clip": true},
     "encoding": {
      "x": {"field": "f", "type": "quantitative", "scale": {"domain": [-241, 4830], "nice": false, "zero": false}, "axis": {"orient": "bottom", "values": [500,1000,1500,2000,2500,3000,3500,4000,4500], "grid": true, "gridColor": "#bdbdbd", "gridWidth": 1.5, "labels": false, "ticks": false, "domain": false, "title": null}},
      "y": {"field": "a", "type": "quantitative", "scale": {"domain": [-0.002373, 0.025198], "nice": false, "zero": false}, "axis": {"orient": "left", "values": [0,0.001,0.002,0.003,0.004,0.005,0.006,0.007,0.008,0.009,0.01,0.011,0.012,0.013,0.014,0.015,0.016,0.017,0.018,0.019,0.02,0.021,0.022], "grid": true, "gridColor": "#bdbdbd", "gridWidth": 1.5, "labels": false, "ticks": false, "domain": false, "title": null}}
     }},
    {"data": {"values": [{}]}, "mark": {"type": "rect", "fill": "#e8e8e8"},
     "encoding": {
      "x": {"datum": -241, "type": "quantitative", "axis": {"orient": "bottom", "offset": -13, "values": [0,500,1000,1500,2000,2500,3000,3500,4000,4500], "grid": false, "ticks": false, "domain": false, "labelAlign": "left", "labelBaseline": "top", "labelPadding": 1, "labelFontSize": 10, "labelColor": "#808080", "labelFont": "Liberation Sans Narrow, Liberation Sans, sans-serif", "format": "d", "labelOverlap": false, "labelFlush": false, "title": "частота. Гц", "titleAnchor": "end", "titleFontSize": 22, "titleFont": "Liberation Sans", "titleFontWeight": "normal", "titleColor": "#000000", "titleBaseline": "alphabetic", "titlePadding": 21, "minExtent": 12, "maxExtent": 12, "zindex": 1}},
      "x2": {"datum": 0},
      "y": {"datum": -0.002373, "type": "quantitative", "axis": {"orient": "left", "offset": -37, "values": [0,0.005,0.01,0.015,0.02], "grid": false, "ticks": false, "domain": false, "labelPadding": 6, "labelFontSize": 10, "labelColor": "#808080", "labelFont": "Liberation Sans Narrow, Liberation Sans, sans-serif", "format": "~g", "labelOverlap": false, "labelFlush": false, "labelBaseline": "middle", "title": "Амплитуда", "titleFontSize": 24, "titleFont": "Liberation Sans", "titleFontWeight": "normal", "titleColor": "#000000", "titlePadding": 30, "titleY": 110, "minExtent": 22, "maxExtent": 22, "zindex": 1}},
      "y2": {"datum": 0.023277}
     }},
    {"data": {"values": [{}]}, "mark": {"type": "rect", "fill": "#e8e8e8"},
     "encoding": {"x": {"datum": 0, "type": "quantitative", "axis": null}, "x2": {"datum": 4830}, "y": {"datum": -0.002373, "type": "quantitative", "axis": null}, "y2": {"datum": -0.000904}}},
    {"data": {"values": [{}]}, "mark": {"type": "rect", "fill": "#e6e6e6", "stroke": "#8c8c8c", "strokeWidth": 1},
     "encoding": {"x": {"datum": 0, "type": "quantitative", "axis": null}, "x2": {"datum": 4830}, "y": {"datum": 0.023277, "type": "quantitative", "axis": null}, "y2": {"datum": 0.025198}}},
    {"data": {"values": [{}]}, "mark": {"type": "rect", "fill": "#ffffff"},
     "encoding": {"x": {"datum": -241, "type": "quantitative", "axis": null}, "x2": {"datum": 0}, "y": {"datum": 0.0222, "type": "quantitative", "axis": null}, "y2": {"datum": 0.025198}}},
    {"data": {"values": [{}]}, "mark": {"type": "rule", "color": "#b0b0b0", "strokeWidth": 1},
     "encoding": {"x": {"datum": 0, "type": "quantitative", "axis": null}, "x2": {"datum": 4830}, "y": {"datum": -0.000904, "type": "quantitative", "axis": null}}},
    {"data": {"values": [{}]}, "mark": {"type": "rule", "color": "#555555", "strokeWidth": 1.5},
     "encoding": {"x": {"datum": 0, "type": "quantitative", "axis": null}, "y": {"datum": -0.000904, "type": "quantitative", "axis": null}, "y2": {"datum": 0.023277}}},
    {"data": {"values": [{}]}, "mark": {"type": "text", "text": "мВ", "align": "right", "baseline": "alphabetic", "fontSize": 21, "font": "Liberation Sans", "color": "#000000", "dx": -4},
     "encoding": {"x": {"datum": 0, "type": "quantitative", "axis": null}, "y": {"datum": 0.02237, "type": "quantitative", "axis": null}}},
    {"data": {"values": [{}]}, "mark": {"type": "text", "text": "Частота 4.882813 Гц", "align": "left", "baseline": "middle", "fontSize": 10, "fontWeight": "bold", "font": "Liberation Sans Narrow, Liberation Sans, sans-serif", "color": "#222222"},
     "encoding": {"x": {"datum": 26, "type": "quantitative", "axis": null}, "y": {"datum": 0.024237, "type": "quantitative", "axis": null}}},
    {"data": {"values": [{}]}, "mark": {"type": "text", "text": "уровень 0.005116 mV", "align": "left", "baseline": "middle", "fontSize": 10, "font": "Liberation Sans Narrow, Liberation Sans, sans-serif", "color": "#444444"},
     "encoding": {"x": {"datum": 658, "type": "quantitative", "axis": null}, "y": {"datum": 0.024237, "type": "quantitative", "axis": null}}}
   ]
  }
 ]
}
